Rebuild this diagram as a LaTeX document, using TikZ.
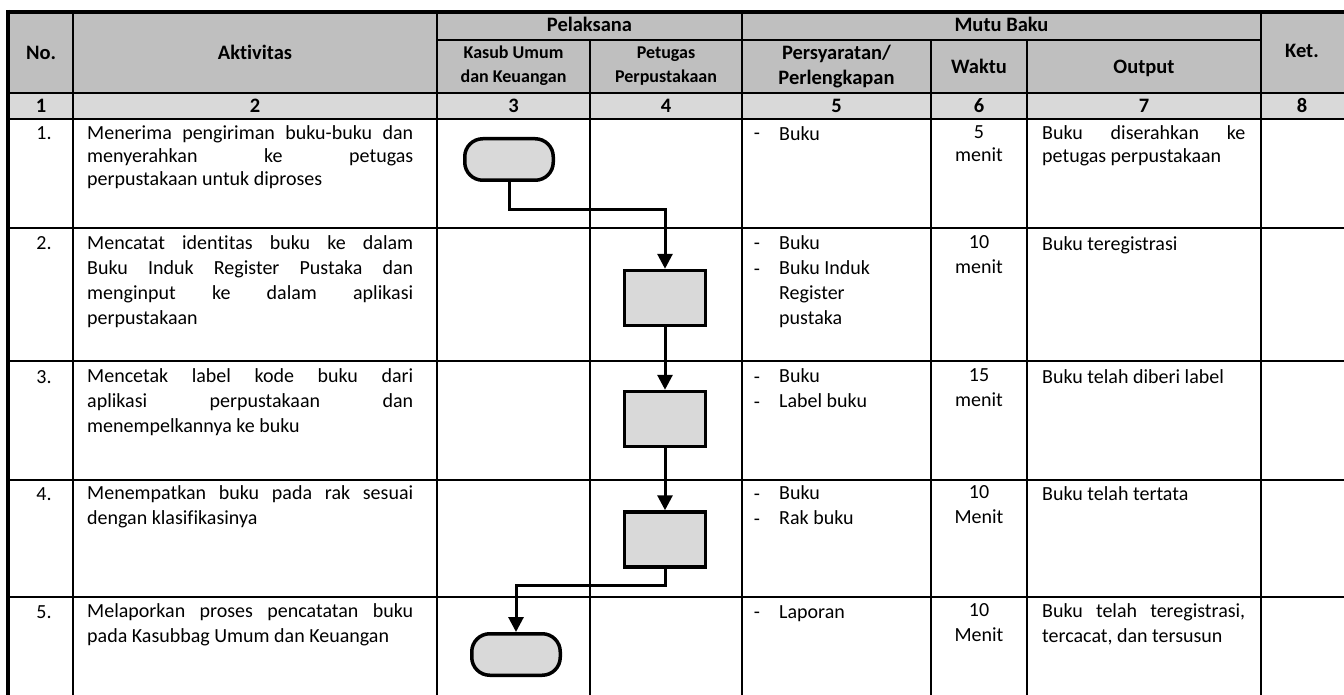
\documentclass[tikz,border=0pt]{standalone}
\usepackage{fontspec}
\setmainfont{Carlito}[Ligatures={NoCommon}]
\usetikzlibrary{arrows.meta}
\definecolor{hdrgray}{HTML}{BFBFBF}
\definecolor{numgray}{HTML}{D9D9D9}
\definecolor{shapegray}{HTML}{D9D9D9}
\newcommand{\tstrut}{\rule{0pt}{15pt}}
\newcommand{\jl}[2]{\makebox[#1][s]{#2}}
\begin{document}
\begin{tikzpicture}[x=1pt,y=-1pt,
  gridline/.style={line width=2pt},
  outerline/.style={line width=4.5pt},
  hd/.style={font=\bfseries\fontsize{20.5}{24}\selectfont, anchor=base, inner sep=0pt},
  hds/.style={font=\bfseries\fontsize{18}{21}\selectfont, anchor=base, inner sep=0pt},
  num/.style={font=\fontsize{20}{24}\selectfont, anchor=base, inner sep=0pt},
  cellA/.style={font=\fontsize{20}{23.3}\selectfont, anchor=north west, align=left, inner sep=0pt, execute at begin node=\tstrut},
  cellB/.style={font=\fontsize{20}{25}\selectfont, anchor=north west, align=left, inner sep=0pt, execute at begin node=\tstrut},
  cellAc/.style={cellA, anchor=north, align=center},
  cellBc/.style={cellB, anchor=north, align=center},
  proc/.style={draw, line width=3.5pt, fill=shapegray, minimum width=81pt, minimum height=55pt, inner sep=0pt},
  term/.style={draw, line width=3.5pt, fill=shapegray, rounded corners=18pt, minimum width=88.5pt, minimum height=41.5pt, inner sep=0pt},
  flow/.style={line width=3pt, -{Triangle[width=15pt,length=15pt]}}
]
\useasboundingbox (0,0) rectangle (1344,695);
% header fills
\fill[hdrgray] (8,12) rectangle (1344,93);
\fill[numgray] (8,93) rectangle (1344,119);
% horizontal grid lines
\draw[gridline] (437,40) -- (1261,40);
\foreach \yy in {93,119,228,361,480,597} \draw[gridline] (8,\yy) -- (1344,\yy);
% vertical grid lines
\foreach \xx in {73,437,742,1261} \draw[gridline] (\xx,12) -- (\xx,695);
\foreach \xx in {590,931,1027} \draw[gridline] (\xx,40) -- (\xx,695);
% outer border
\draw[outerline] (8,10) -- (8,695);
\draw[outerline] (6,12) -- (1344,12);

% header texts
\node[hd] (hNo) at (41,60) {No.};
\node[hd] (hAkt) at (255,60) {Aktivitas};
\node[hd] (hPel) at (589.5,32) {Pelaksana};
\node[hd] (hMutu) at (1001.5,32) {Mutu Baku};
\node[hd] (hKet) at (1302,58) {Ket.};
\node[hds] (hKas1) at (513.5,59) {Kasub Umum};
\node[hds] (hKas2) at (513.5,83) {dan Keuangan};
\node[hds] (hPet1) at (666,59) {Petugas};
\node[hds] (hPet2) at (666,83) {Perpustakaan};
\node[hd] (hPer1) at (836.5,60) {Persyaratan/};
\node[hd] (hPer2) at (836.5,85) {Perlengkapan};
\node[hd] (hWak) at (979,74) {Waktu};
\node[hd] (hOut) at (1144,74) {Output};
% number row
\node[hd] (n1) at (41,113) {1};
\node[hd] (n2) at (255,113) {2};
\node[hd] (n3) at (513.5,113) {3};
\node[hd] (n4) at (666,113) {4};
\node[hd] (n5) at (836.5,113) {5};
\node[hd] (n6) at (979,113) {6};
\node[hd] (n7) at (1144,113) {7};
\node[hd] (n8) at (1302,113) {8};

% row numbers
\node[num] (r1) at (44,140) {1.};
\node[num] (r2) at (44,250) {2.};
\node[num] (r3) at (44,383) {3.};
\node[num] (r4) at (44,500) {4.};
\node[num] (r5) at (44,618) {5.};

% activities
\node[cellA] (a1) at (87,125) {\jl{326pt}{Menerima pengiriman buku-buku dan}\\\jl{326pt}{menyerahkan ke petugas}\\perpustakaan untuk diproses};
\node[cellB] (a2) at (87,235) {\jl{326pt}{Mencatat identitas buku ke dalam}\\\jl{326pt}{Buku Induk Register Pustaka dan}\\\jl{326pt}{menginput ke dalam aplikasi}\\perpustakaan};
\node[cellB] (a3) at (87,368) {\jl{326pt}{Mencetak label kode buku dari}\\\jl{326pt}{aplikasi perpustakaan dan}\\menempelkannya ke buku};
\node[cellB] (a4) at (87,485) {\jl{326pt}{Menempatkan buku pada rak sesuai}\\dengan klasifikasinya};
\node[cellB] (a5) at (87,603) {\jl{326pt}{Melaporkan proses pencatatan buku}\\pada Kasubbag Umum dan Keuangan};

% requirements
\node[num] (d1) at (757,140) {-};
\node[cellA] (p1) at (779,125) {Buku};
\node[num] (d2a) at (757,250) {-};
\node[num] (d2b) at (757,275) {-};
\node[cellB] (p2) at (779,235) {Buku\\Buku Induk\\Register\\pustaka};
\node[num] (d3a) at (757,383) {-};
\node[num] (d3b) at (757,408) {-};
\node[cellB] (p3) at (779,368) {Buku\\Label buku};
\node[num] (d4a) at (757,500) {-};
\node[num] (d4b) at (757,525) {-};
\node[cellB] (p4) at (779,485) {Buku\\Rak buku};
\node[num] (d5) at (757,618) {-};
\node[cellB] (p5) at (779,603) {Laporan};

% time
\node[cellAc] (w1) at (979,125) {5\\menit};
\node[cellBc] (w2) at (979,235) {10\\menit};
\node[cellBc] (w3) at (979,368) {15\\menit};
\node[cellBc] (w4) at (979,485) {10\\Menit};
\node[cellBc] (w5) at (979,603) {10\\Menit};

% output
\node[cellA] (o1) at (1042,125) {\jl{203pt}{Buku diserahkan ke}\\petugas perpustakaan};
\node[cellB] (o2) at (1042,235) {Buku teregistrasi};
\node[cellB] (o3) at (1042,368) {Buku telah diberi label};
\node[cellB] (o4) at (1042,485) {Buku telah tertata};
\node[cellB] (o5) at (1042,603) {\jl{203pt}{Buku telah teregistrasi,}\\tercacat, dan tersusun};

% flowchart
\node[term] (t1) at (509,159.5) {};
\node[proc] (b2) at (665,298) {};
\node[proc] (b3) at (665,419) {};
\node[proc] (b4) at (665,539.5) {};
\node[term] (t2) at (516,654.5) {};
\coordinate (k1) at (509,210);
\coordinate (k2) at (665,585);
\draw[flow] (t1.south) -- (k1) -| (b2.north);
\draw[flow] (b2.south) -- (b3.north);
\draw[flow] (b3.south) -- (b4.north);
\draw[flow] (b4.south) -- (k2) -| (t2.north);
\end{tikzpicture}
\end{document}
